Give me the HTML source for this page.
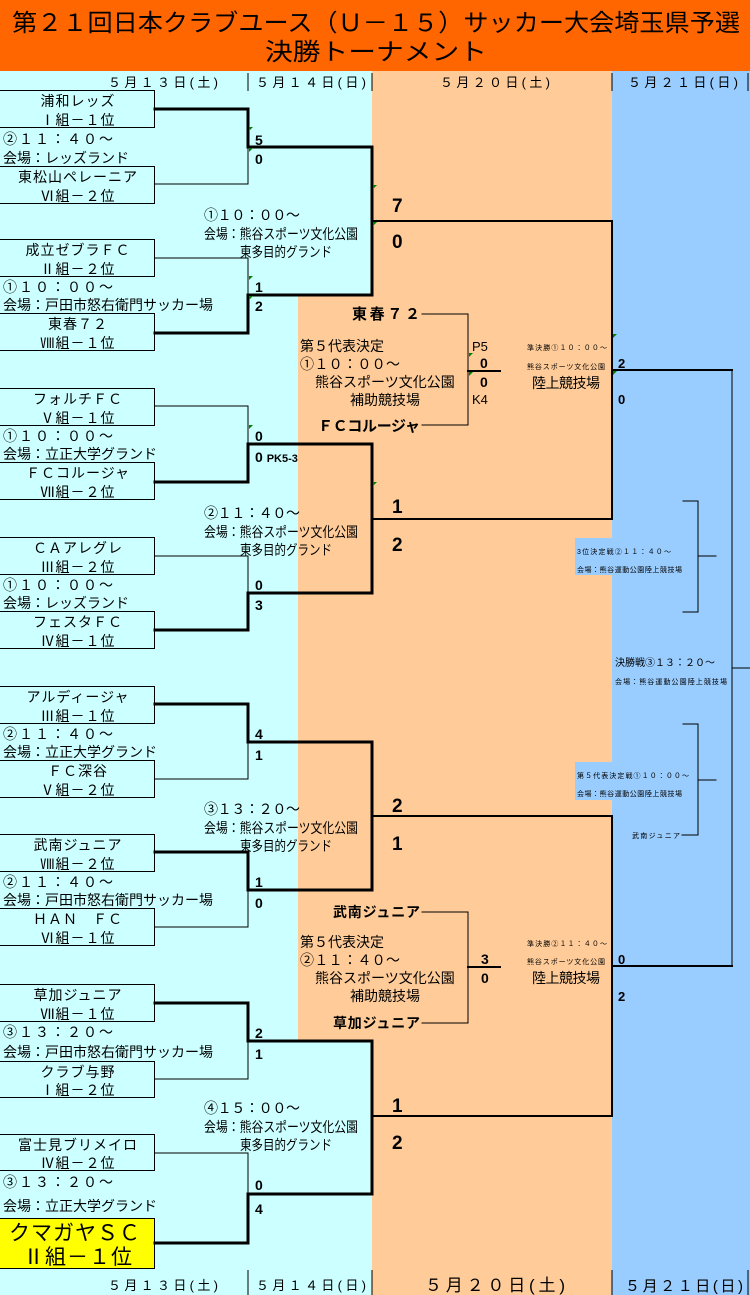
<!DOCTYPE html>
<html><head><meta charset="utf-8"><style>
html,body{margin:0;padding:0;width:750px;height:1295px;overflow:hidden;background:#ccffff}
svg{display:block}
text{font-family:"Liberation Sans","Noto Sans CJK JP",sans-serif;fill:#000}
.t{font-size:14px}
.s{font-size:13px}
.b{font-weight:bold}
.x{font-size:7px}
.tm text{letter-spacing:1px}
</style></head><body>
<svg width="750" height="1295" viewBox="0 0 750 1295" xmlns="http://www.w3.org/2000/svg">
<rect x="0" y="0" width="750" height="1295" fill="#ccffff"/>
<rect x="372" y="70" width="240" height="1225" fill="#ffcc99"/>
<rect x="298" y="295" width="74" height="745" fill="#ffcc99"/>
<rect x="612" y="70" width="138" height="1225" fill="#99ccff"/>
<rect x="575" y="538" width="37" height="37" fill="#99ccff"/>
<rect x="575" y="762" width="37" height="38" fill="#99ccff"/>
<rect x="0" y="0" width="750" height="71" fill="#ff6600"/>
<text x="12" y="31" style="font-size:24px" textLength="728" lengthAdjust="spacingAndGlyphs">第２１回日本クラブユース（Ｕ－１５）サッカー大会埼玉県予選</text>
<text x="265" y="60" style="font-size:24px" textLength="222" lengthAdjust="spacingAndGlyphs">決勝トーナメント</text>

<g class="s">
<text x="108" y="87" textLength="110">５月１３日(土)</text>
<text x="256" y="87" textLength="110">５月１４日(日)</text>
<text x="440" y="87" textLength="110">５月２０日(土)</text>
<text x="628" y="87" textLength="110">５月２１日(日)</text>
<text x="108" y="1290" textLength="110">５月１３日(土)</text>
<text x="256" y="1290" textLength="110">５月１４日(日)</text>
</g>
<text x="425" y="1291" style="font-size:17px" textLength="140">５月２０日(土)</text>
<text x="625" y="1291" style="font-size:15px" textLength="118">５月２１日(日)</text>
<g stroke="#000" stroke-width="1">
<line x1="248" y1="73" x2="248" y2="91"/><line x1="372" y1="73" x2="372" y2="91"/><line x1="612" y1="73" x2="612" y2="91"/><line x1="748" y1="73" x2="748" y2="91"/>
<line x1="248" y1="1270" x2="248" y2="1295"/><line x1="372" y1="1270" x2="372" y2="1295"/><line x1="612" y1="1270" x2="612" y2="1295"/><line x1="748" y1="1270" x2="748" y2="1295"/>
</g>

<g fill="none" stroke="#000" stroke-width="1">
<rect x="-1" y="90.5" width="155.5" height="37"/>
<rect x="-1" y="166.5" width="155.5" height="37"/>
<rect x="-1" y="239.5" width="155.5" height="37"/>
<rect x="-1" y="313.5" width="155.5" height="37"/>
<rect x="-1" y="388.5" width="155.5" height="37"/>
<rect x="-1" y="462.5" width="155.5" height="37"/>
<rect x="-1" y="537.5" width="155.5" height="37"/>
<rect x="-1" y="611.5" width="155.5" height="37"/>
<rect x="-1" y="686.5" width="155.5" height="37"/>
<rect x="-1" y="760.5" width="155.5" height="37"/>
<rect x="-1" y="834.5" width="155.5" height="37"/>
<rect x="-1" y="908.5" width="155.5" height="37"/>
<rect x="-1" y="984.5" width="155.5" height="37"/>
<rect x="-1" y="1061.5" width="155.5" height="36"/>
<rect x="-1" y="1134.5" width="155.5" height="36"/>
</g>
<rect x="-1" y="1218.5" width="155.5" height="50" fill="#ffff00" stroke="#000"/>

<g class="t tm" text-anchor="middle">
<text x="78" y="106">浦和レッズ</text><text x="78" y="125">Ⅰ組－１位</text>
<text x="78" y="182">東松山ペレーニア</text><text x="78" y="201">Ⅵ組－２位</text>
<text x="78" y="255">成立ゼブラＦＣ</text><text x="78" y="274">Ⅱ組－２位</text>
<text x="78" y="329">東春７２</text><text x="78" y="348">Ⅷ組－１位</text>
<text x="78" y="404">フォルチＦＣ</text><text x="78" y="423">Ⅴ組－１位</text>
<text x="78" y="478">ＦＣコルージャ</text><text x="78" y="497">Ⅶ組－２位</text>
<text x="78" y="553">ＣＡアレグレ</text><text x="78" y="572">Ⅲ組－２位</text>
<text x="78" y="627">フェスタＦＣ</text><text x="78" y="646">Ⅳ組－１位</text>
<text x="78" y="702">アルディージャ</text><text x="78" y="721">Ⅲ組－１位</text>
<text x="78" y="776">ＦＣ深谷</text><text x="78" y="795">Ⅴ組－２位</text>
<text x="78" y="850">武南ジュニア</text><text x="78" y="869">Ⅷ組－２位</text>
<text x="78" y="924">ＨＡＮ　ＦＣ</text><text x="78" y="943">Ⅵ組－１位</text>
<text x="78" y="1000">草加ジュニア</text><text x="78" y="1019">Ⅶ組－１位</text>
<text x="78" y="1077">クラブ与野</text><text x="78" y="1095">Ⅰ組－２位</text>
<text x="78" y="1150">富士見ブリメイロ</text><text x="78" y="1168">Ⅳ組－２位</text>
<text x="75" y="1240" style="font-size:21px">クマガヤＳＣ</text><text x="78" y="1264" style="font-size:21px">Ⅱ組－１位</text>
</g>

<g class="t">
<text x="3" y="144" textLength="110">②１１：４０～</text><text x="3" y="163">会場：レッズランド</text>
<text x="3" y="292" textLength="110">①１０：００～</text><text x="3" y="310">会場：戸田市怒右衛門サッカー場</text>
<text x="3" y="441" textLength="110">①１０：００～</text><text x="3" y="459">会場：立正大学グランド</text>
<text x="3" y="590" textLength="110">①１０：００～</text><text x="3" y="608">会場：レッズランド</text>
<text x="3" y="739" textLength="110">②１１：４０～</text><text x="3" y="757">会場：立正大学グランド</text>
<text x="3" y="887" textLength="110">②１１：４０～</text><text x="3" y="905">会場：戸田市怒右衛門サッカー場</text>
<text x="3" y="1037" textLength="110">③１３：２０～</text><text x="3" y="1057">会場：戸田市怒右衛門サッカー場</text>
<text x="3" y="1187" textLength="110">③１３：２０～</text><text x="3" y="1211">会場：立正大学グランド</text>
</g>

<g class="t">
<text x="204" y="220" textLength="96">①１０：００～</text><text x="204" y="239" textLength="154" lengthAdjust="spacingAndGlyphs">会場：熊谷スポーツ文化公園</text><text x="240" y="257" textLength="92" lengthAdjust="spacingAndGlyphs">東多目的グランド</text>
<text x="204" y="518" textLength="96">②１１：４０～</text><text x="204" y="537" textLength="154" lengthAdjust="spacingAndGlyphs">会場：熊谷スポーツ文化公園</text><text x="240" y="555" textLength="92" lengthAdjust="spacingAndGlyphs">東多目的グランド</text>
<text x="204" y="814" textLength="96">③１３：２０～</text><text x="204" y="833" textLength="154" lengthAdjust="spacingAndGlyphs">会場：熊谷スポーツ文化公園</text><text x="240" y="851" textLength="92" lengthAdjust="spacingAndGlyphs">東多目的グランド</text>
<text x="204" y="1113" textLength="96">④１５：００～</text><text x="204" y="1132" textLength="154" lengthAdjust="spacingAndGlyphs">会場：熊谷スポーツ文化公園</text><text x="240" y="1150" textLength="92" lengthAdjust="spacingAndGlyphs">東多目的グランド</text>
</g>

<g fill="none" stroke="#000" stroke-linecap="square">
<path d="M155 109H248V147H372" stroke-width="3"/><path d="M155 184H248V147" stroke-width="1"/>
<path d="M155 258H248V295" stroke-width="1"/><path d="M155 333H248V295H372" stroke-width="3"/>
<path d="M155 406H248V444" stroke-width="1"/><path d="M155 482H248V444H372" stroke-width="3"/>
<path d="M155 556H248V593" stroke-width="1"/><path d="M155 630H248V593H372" stroke-width="3"/>
<path d="M155 704H248V742H372" stroke-width="3"/><path d="M155 779H248V742" stroke-width="1"/>
<path d="M155 852H248V890H372" stroke-width="3"/><path d="M155 927H248V890" stroke-width="1"/>
<path d="M155 1003H248V1041H372" stroke-width="3"/><path d="M155 1079H248V1041" stroke-width="1"/>
<path d="M155 1153H248V1194" stroke-width="1"/><path d="M155 1243H248V1194H372" stroke-width="3"/>
<path d="M372 147V295" stroke-width="3"/><path d="M372 221H612" stroke-width="2"/>
<path d="M372 444V593" stroke-width="3"/><path d="M372 519H612" stroke-width="2"/>
<path d="M372 742V890" stroke-width="3"/><path d="M372 816H612" stroke-width="2"/>
<path d="M372 1041V1194" stroke-width="3"/><path d="M372 1116H612" stroke-width="2"/>
<path d="M612 221V519" stroke-width="2"/><path d="M612 370H732" stroke-width="2"/>
<path d="M612 816V1116" stroke-width="2"/><path d="M612 966H732" stroke-width="2"/>
<path d="M732 370V966" stroke-width="1"/><path d="M732 668H750" stroke-width="1"/>
<path d="M422 314H468V425H422" stroke-width="1"/><path d="M468 371H500" stroke-width="2"/>
<path d="M422 912H468V1023H422" stroke-width="1"/><path d="M468 967H500" stroke-width="2"/>
<path d="M683 501H698V612H683M698 556H716" stroke-width="1"/>
<path d="M683 724H698V835H682M698 780H716" stroke-width="1"/>
</g>

<g class="t b">
<text x="255" y="145">5</text><text x="255" y="164">0</text>
<text x="255" y="292">1</text><text x="255" y="311">2</text>
<text x="255" y="441">0</text><text x="255" y="462">0 <tspan style="font-size:11px">PK5-3</tspan></text>
<text x="255" y="590">0</text><text x="255" y="610">3</text>
<text x="255" y="739">4</text><text x="255" y="760">1</text>
<text x="255" y="887">1</text><text x="255" y="908">0</text>
<text x="255" y="1038">2</text><text x="255" y="1059">1</text>
<text x="255" y="1190">0</text><text x="255" y="1214">4</text>
</g>
<g class="b" style="font-size:19px">
<text x="392" y="212">7</text><text x="392" y="248">0</text>
<text x="392" y="513">1</text><text x="392" y="551">2</text>
<text x="392" y="812">2</text><text x="392" y="850">1</text>
<text x="392" y="1112">1</text><text x="392" y="1149">2</text>
</g>
<g class="b" style="font-size:13px">
<text x="618" y="368">2</text><text x="618" y="404">0</text>
<text x="618" y="964">0</text><text x="618" y="1001">2</text>
</g>

<g class="t">
<text x="352" y="319" class="b" style="font-size:15px" textLength="68">東春７２</text>
<text x="300" y="351">第５代表決定</text>
<text x="300" y="369" textLength="100">①１０：００～</text>
<text x="315" y="387">熊谷スポーツ文化公園</text>
<text x="350" y="405">補助競技場</text>
<text x="318" y="431" class="b" style="font-size:15px" textLength="102">ＦＣコルージャ</text>
<text x="472" y="351" class="s">P5</text>
<text x="480" y="368" class="b">0</text>
<text x="480" y="387" class="b">0</text>
<text x="472" y="404" class="s">K4</text>

<text x="333" y="917" class="b" textLength="87">武南ジュニア</text>
<text x="300" y="947">第５代表決定</text>
<text x="300" y="965" textLength="100">②１１：４０～</text>
<text x="315" y="983">熊谷スポーツ文化公園</text>
<text x="350" y="1001">補助競技場</text>
<text x="333" y="1028" class="b" textLength="87">草加ジュニア</text>
<text x="481" y="964" class="b">3</text>
<text x="481" y="983" class="b">0</text>
</g>

<text x="527" y="350" class="x" textLength="80">準決勝①１０：００～</text>
<text x="527" y="369" class="x" textLength="78">熊谷スポーツ文化公園</text>
<text x="532" y="388" class="t" textLength="68">陸上競技場</text>
<text x="527" y="946" class="x" textLength="80">準決勝②１１：４０～</text>
<text x="527" y="964" class="x" textLength="78">熊谷スポーツ文化公園</text>
<text x="532" y="983" class="t" textLength="68">陸上競技場</text>

<text x="577" y="554" class="x" textLength="94">3位決定戦②１１：４０～</text>
<text x="577" y="572" class="x" textLength="105">会場：熊谷運動公園陸上競技場</text>
<text x="615" y="666" style="font-size:10px" textLength="100">決勝戦③１３：２０～</text>
<text x="615" y="684" class="x" textLength="112">会場：熊谷運動公園陸上競技場</text>
<text x="577" y="778" class="x" textLength="112">第５代表決定戦①１０：００～</text>
<text x="577" y="796" class="x" textLength="105">会場：熊谷運動公園陸上競技場</text>
<text x="632" y="838" class="x" textLength="48">武南ジュニア</text>

<g fill="#008000">
<path d="M249 127l4 0l-4 4z"/><path d="M249 148l4 0l-4 4z"/>
<path d="M249 276l4 0l-4 4z"/><path d="M249 296l4 0l-4 4z"/>
<path d="M249 425l4 0l-4 4z"/>
<path d="M373 185l4 0l-4 4z"/><path d="M373 222l4 0l-4 4z"/>
<path d="M373 482l4 0l-4 4z"/>
<path d="M469 353l4 0l-4 4z"/><path d="M469 372l4 0l-4 4z"/>
<path d="M613 334l4 0l-4 4z"/><path d="M613 371l4 0l-4 4z"/>
</g>
</svg>
</body></html>
